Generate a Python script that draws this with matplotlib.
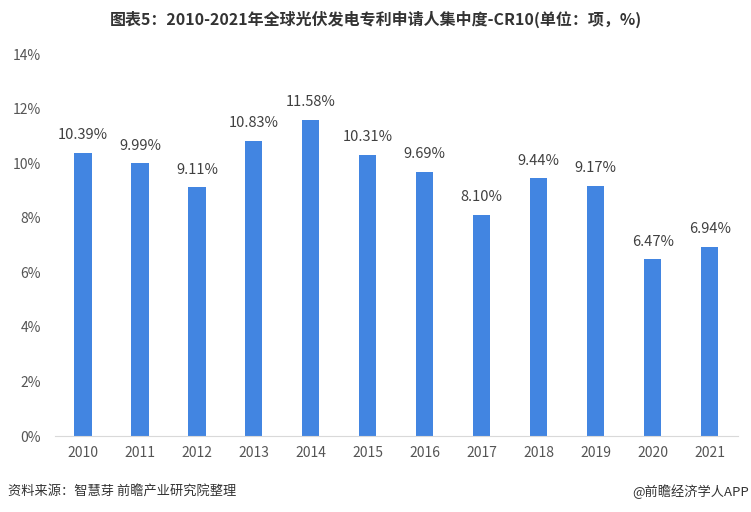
import matplotlib
matplotlib.use("Agg")
import matplotlib.pyplot as plt
from matplotlib.ticker import FuncFormatter

plt.rcParams['font.family'] = ['Noto Sans CJK SC', 'DejaVu Sans']

years = ["2010", "2011", "2012", "2013", "2014", "2015", "2016", "2017", "2018", "2019", "2020", "2021"]
cr10 = [10.39, 9.99, 9.11, 10.83, 11.58, 10.31, 9.69, 8.10, 9.44, 9.17, 6.47, 6.94]
title = "图表5：2010-2021年全球光伏发电专利申请人集中度-CR10(单位：项，%)"
source = "资料来源：智慧芽 前瞻产业研究院整理"
brand = "@前瞻经济学人APP"

fig = plt.figure(figsize=(7.51, 5.12), dpi=100)
ax = fig.add_axes([0.0726, 0.1484, 0.9104, 0.7461])

x = range(len(years))
ax.bar(x, cr10, width=0.3, color="#4285E1", zorder=2)
for i, v in zip(x, cr10):
    ax.text(i, v + 0.4, f"{v:.2f}%", ha="center", va="bottom", fontsize=10.5, color="#404040")

ax.set_xlim(-0.5, len(years) - 0.5)
ax.set_ylim(0, 14)
ax.set_yticks(range(0, 15, 2))
ax.yaxis.set_major_formatter(FuncFormatter(lambda v, p: f"{int(v)}%"))
ax.set_xticks(list(x))
ax.set_xticklabels(years)
ax.tick_params(axis="both", length=0, labelsize=10, colors="#555555")
ax.tick_params(axis="x", pad=7)
ax.tick_params(axis="y", pad=10)
for s in ["top", "right", "left"]:
    ax.spines[s].set_visible(False)
ax.spines["bottom"].set_color("#d9d9d9")

fig.text(0.5, 0.963, title, ha="center", va="center", fontsize=11.5, fontweight="bold", color="#333333")
fig.text(0.01, 0.04, source, ha="left", va="center", fontsize=9.5, color="#333333")
fig.text(0.997, 0.04, brand, ha="right", va="center", fontsize=9.5, color="#333333")

fig.savefig("out.png", dpi=100)
